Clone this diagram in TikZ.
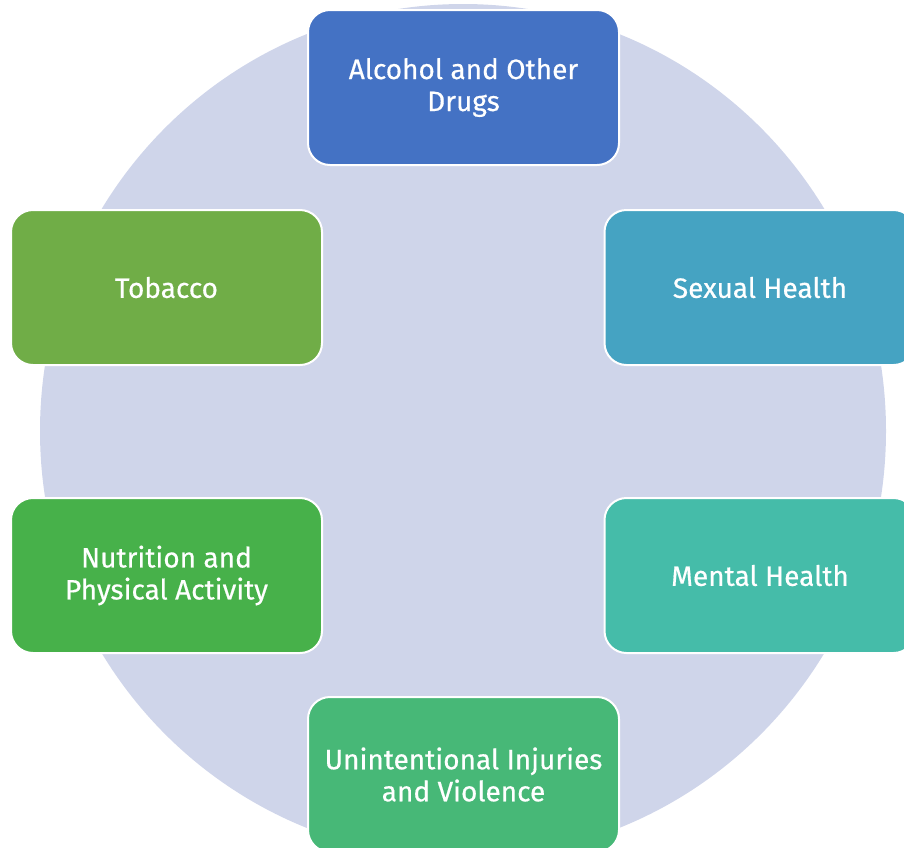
\documentclass[tikz,border=0pt]{standalone}
\usepackage{fontspec}
\setmainfont{Fira Sans}[FakeBold=0.5]
\definecolor{bgcirc}{HTML}{CFD5EA}
\definecolor{cAlc}{HTML}{4472C4}
\definecolor{cSex}{HTML}{45A3C2}
\definecolor{cTob}{HTML}{70AD47}
\definecolor{cNut}{HTML}{47B14A}
\definecolor{cMen}{HTML}{45BCA9}
\definecolor{cUni}{HTML}{47B877}
\begin{document}
\begin{tikzpicture}[x=1pt,y=-1pt,
  topicbox/.style={draw=white, line width=2pt, rounded corners=22pt,
    minimum width=311pt, minimum height=155pt, text=white, align=center,
    font=\fontsize{28}{32}\selectfont, inner sep=0pt}]
\useasboundingbox (0,0) rectangle (904,847);
\begin{scope}
\clip (0,0) rectangle (904,847);
\fill[bgcirc] (463,431) ellipse [x radius=423, y radius=427];
\node[topicbox, fill=cAlc] (alc) at (463.5,87.5) {Alcohol and Other\\Drugs};
\node[topicbox, fill=cTob] (tob) at (166.5,287.5) {Tobacco};
\node[topicbox, fill=cSex] (sex) at (760,287.5) {Sexual Health};
\node[topicbox, fill=cNut] (nut) at (166.5,575.5) {Nutrition and\\Physical Activity};
\node[topicbox, fill=cMen] (men) at (760,575.5) {Mental Health};
\node[topicbox, fill=cUni] (uni) at (463.5,774.5) {Unintentional Injuries\\and Violence};
\end{scope}
\end{tikzpicture}
\end{document}
